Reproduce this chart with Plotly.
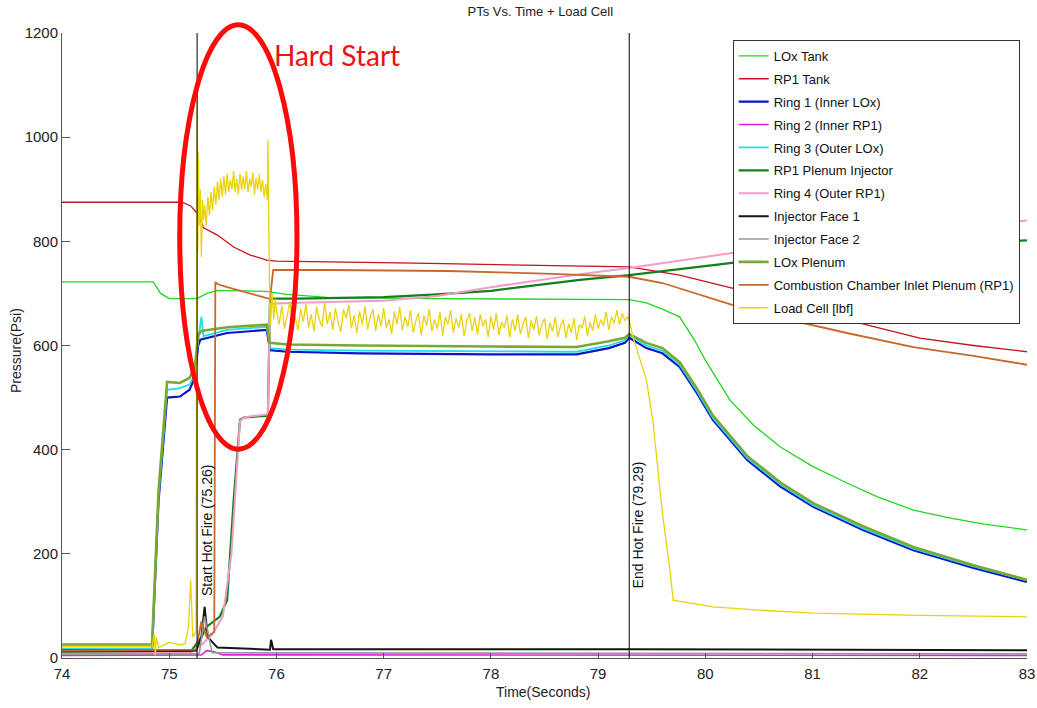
import numpy as np
import plotly.graph_objects as go

# ---------------- data ----------------
lox_tank_t = [74, 74.85, 74.92, 75.0, 75.26, 75.35, 75.45, 75.9, 76.1, 76.5, 77.5, 78.5, 79.29, 79.45, 79.6,
              79.76, 79.9, 80.0, 80.23, 80.45, 80.7, 81.0, 81.32, 81.6, 81.94, 82.3, 82.6, 83.0]
lox_tank_v = [722, 722, 700, 690, 690, 700, 706, 704, 698, 692, 690, 689, 688, 682, 670,
              655, 610, 572, 495, 447, 405, 368, 336, 310, 284, 268, 257, 246]

rp1_tank_t = [74, 75.12, 75.2, 75.26, 75.32, 75.45, 75.6, 75.75, 75.91, 76.0, 77.3, 78.5, 79.29, 79.76,
              80.25, 80.8, 81.32, 82.0, 82.5, 83.0]
rp1_tank_v = [875, 875, 868, 854, 826, 812, 789, 774, 764, 762, 758, 754, 751, 735,
              710, 680, 649, 614, 600, 588]

ring1_t = [74, 74.84, 74.9, 74.98, 75.1, 75.19, 75.24, 75.27, 75.29, 75.54, 75.91, 75.94, 76.1, 76.78,
           78.0, 78.8, 79.1, 79.25, 79.29, 79.45, 79.6, 79.76, 79.92, 80.07, 80.39, 80.7, 81.01, 81.47,
           81.94, 82.5, 83.0]
ring1_v = [15, 15, 300, 500, 502, 515, 540, 600, 611, 624, 630, 591, 588, 585,
           583, 583, 595, 605, 615, 595, 585, 559, 509, 457, 380, 329, 290, 246,
           207, 173, 146]

ring2_t = [74, 75.3, 75.35, 75.42, 75.5, 83]
ring2_v = [5, 6, 14, 12, 6, 5]

ring3_t = [74, 74.84, 74.9, 74.98, 75.1, 75.19, 75.24, 75.27, 75.3, 75.32, 75.54, 75.91, 75.94, 76.1,
           76.78, 78.0, 78.8, 79.1, 79.25, 79.29, 79.45, 79.6, 79.76, 79.92, 80.07, 80.39, 80.7, 81.01,
           81.47, 81.94, 82.5, 83.0]
ring3_v = [18, 18, 310, 515, 518, 525, 545, 610, 655, 618, 630, 636, 595, 592,
           590, 588, 588, 600, 610, 620, 600, 590, 563, 513, 461, 384, 333, 293,
           249, 210, 176, 149]

rp1_plenum_t = [74, 75.2, 75.3, 75.35, 75.47, 75.54, 75.6, 75.66, 75.7, 75.92, 75.94, 76.2, 77.0, 77.5,
                78.0, 78.83, 79.29, 80.23, 81.0, 82.0, 83.0]
rp1_plenum_v = [10, 12, 40, 60, 79, 111, 300, 457, 462, 465, 690, 690, 693, 698,
                705, 726, 735, 758, 775, 790, 802]

ring4_t = [74, 75.2, 75.3, 75.4, 75.5, 75.58, 75.66, 75.7, 75.92, 75.94, 76.2, 77.0, 77.5, 78.0,
           78.83, 79.29, 80.23, 81.0, 82.0, 83.0]
ring4_v = [8, 10, 25, 45, 80, 200, 455, 462, 468, 680, 682, 686, 695, 712,
           737, 749, 777, 800, 820, 840]

face1_t = [74, 75.25, 75.3, 75.33, 75.36, 75.45, 75.94, 75.95, 75.97, 77.0, 79.29, 83]
face1_v = [14, 14, 40, 98, 40, 20, 16, 35, 17, 17, 17, 15]

face2_t = [74, 75.28, 75.33, 75.4, 83]
face2_v = [8, 8, 80, 10, 8]

lox_plenum_t = [74, 74.84, 74.9, 74.98, 75.1, 75.19, 75.24, 75.27, 75.3, 75.54, 75.91, 75.94, 76.1,
                76.78, 78.0, 78.8, 79.1, 79.25, 79.29, 79.45, 79.6, 79.76, 79.92, 80.07, 80.39, 80.7,
                81.01, 81.47, 81.94, 82.5, 83.0]
lox_plenum_v = [26, 26, 320, 530, 528, 538, 560, 620, 628, 635, 640, 605, 602,
                600, 598, 597, 608, 615, 622, 605, 595, 568, 518, 466, 388, 337,
                297, 253, 213, 178, 150]

ccip_t = [74, 75.25, 75.3, 75.35, 75.42, 75.43, 75.45, 75.54, 75.91, 75.94, 75.97, 76.5, 77.6, 78.5,
          79.29, 79.6, 80.25, 80.7, 81.32, 81.94, 82.5, 83.0]
ccip_v = [14, 16, 70, 40, 50, 722, 718, 712, 691, 690, 745, 745, 743, 738,
          732, 720, 678, 653, 624, 597, 580, 563]

load_pre_t = [74, 74.84, 74.86, 74.87, 74.88, 74.9, 75.0, 75.1, 75.15, 75.18, 75.2, 75.22, 75.25,
              75.26, 75.265, 75.27, 75.28, 75.29, 75.3, 75.31, 75.32, 75.33, 75.345, 75.36, 75.375,
              75.39, 75.405, 75.42, 75.435, 75.45, 75.465, 75.48, 75.495, 75.51, 75.525, 75.54, 75.555,
              75.57, 75.585, 75.6, 75.615, 75.63, 75.645, 75.66, 75.675, 75.69, 75.705, 75.72, 75.735,
              75.75, 75.765, 75.78, 75.795, 75.81, 75.825, 75.84, 75.855, 75.87, 75.885, 75.9, 75.915,
              75.92, 75.935, 75.945, 75.96, 75.975, 75.99]
load_pre_v = [22, 22, 45, 5, 40, 20, 30, 25, 28, 60, 150, 40, 50,
              1090, 780, 970, 830, 900, 770, 880, 840, 870, 830, 885, 850,
              895, 860, 905, 870, 915, 880, 920, 885, 925, 890, 930, 895,
              918, 900, 935, 895, 920, 890, 930, 898, 925, 900, 935, 895,
              920, 905, 932, 890, 922, 900, 928, 895, 918, 885, 910, 880,
              995, 720, 640, 700, 650, 690]
load_burn_v = [668, 640, 676, 632, 662, 684, 638, 655, 629, 671,
               646, 680, 634, 660, 627, 674, 650, 636, 683, 641,
               664, 630, 672, 645, 626, 669, 652, 678, 633, 658,
               624, 666, 640, 675, 631, 655, 670, 628, 660, 637,
               672, 634, 650, 622, 666, 641, 674, 629, 655, 636,
               668, 625, 647, 662, 620, 658, 638, 670, 627, 650,
               632, 664, 619, 655, 641, 668, 624, 652, 635, 660,
               618, 648, 662, 628, 654, 621, 660, 637, 650, 616,
               656, 630, 662, 620, 645, 634, 658, 615, 650, 628,
               660, 622, 642, 655, 614, 648, 630, 657, 619, 640,
               652, 612, 644, 627, 655, 616, 638, 650, 614, 642,
               624, 652, 610, 640, 633, 656, 618, 645, 628, 660,
               632, 650, 638, 664, 630, 655, 642, 668, 640, 662,
               648, 655]
load_post_t = [79.29, 79.32, 79.45, 79.51, 79.6, 79.67, 79.7, 80.07, 80.5, 81.01, 82.0, 83.0]
load_post_v = [650, 620, 534, 457, 278, 169, 111, 98, 92, 86, 82, 79]
load_burn_t = list(np.round(np.arange(len(load_burn_v)) * 0.025 + 76.0, 3))
load_t = load_pre_t + load_burn_t + load_post_t
load_v = load_pre_v + load_burn_v + load_post_v

series = [
    ("LOx Tank", lox_tank_t, lox_tank_v, "#1fd81f", 1.3),
    ("RP1 Tank", rp1_tank_t, rp1_tank_v, "#c4141e", 1.3),
    ("Ring 1 (Inner LOx)", ring1_t, ring1_v, "#0a14c8", 2.2),
    ("Ring 2 (Inner RP1)", ring2_t, ring2_v, "#d826d8", 1.6),
    ("Ring 3 (Outer LOx)", ring3_t, ring3_v, "#22dce6", 1.8),
    ("RP1 Plenum Injector", rp1_plenum_t, rp1_plenum_v, "#12801e", 2.2),
    ("Ring 4 (Outer RP1)", ring4_t, ring4_v, "#f29cc8", 2.0),
    ("Injector Face 1", face1_t, face1_v, "#151515", 2.0),
    ("Injector Face 2", face2_t, face2_v, "#9a9a9a", 1.6),
    ("LOx Plenum", lox_plenum_t, lox_plenum_v, "#7aa832", 2.6),
    ("Combustion Chamber Inlet Plenum (RP1)", ccip_t, ccip_v, "#c8682c", 1.8),
    ("Load Cell [lbf]", load_t, load_v, "#ead20e", 1.3),
]

start_fire = 75.26
end_fire = 79.29

fig = go.Figure()
for i, (name, t, v, col, w) in enumerate(series):
    fig.add_trace(go.Scatter(x=t, y=v, mode="lines", name=name, legendgroup="g%d" % i,
                             line=dict(color=col, width=w)))

for tx in (start_fire, end_fire):
    fig.add_trace(go.Scatter(x=[tx, tx], y=[0, 1200], mode="lines", showlegend=False,
                             line=dict(color="black", width=1), hoverinfo="skip"))

regular = "Liberation Sans, Arial, sans-serif"

fig.add_annotation(x=start_fire, y=246, text="Start Hot Fire (75.26)", textangle=-90,
                   showarrow=False, xshift=10, font=dict(family=regular, size=14, color="#111"))
fig.add_annotation(x=end_fire, y=255, text="End Hot Fire (79.29)", textangle=-90,
                   showarrow=False, xshift=9, font=dict(family=regular, size=14, color="#111"))

# axis titles
fig.add_annotation(xref="paper", yref="paper", x=-0.0477, y=0.4928, text="Pressure(Psi)",
                   textangle=-90, showarrow=False, xanchor="center", yanchor="middle",
                   font=dict(family=regular, size=14, color="#222"))
fig.add_annotation(xref="paper", yref="paper", x=0.4984, y=-0.0544, text="Time(Seconds)",
                   showarrow=False, xanchor="center", yanchor="middle",
                   font=dict(family=regular, size=14, color="#222"))

# red ellipse and label
fig.add_shape(type="circle", xref="paper", yref="paper", x0=0.122, x1=0.2435, y0=0.334, y1=1.013,
              line=dict(color="#ff0a0a", width=5), layer="above")
fig.add_annotation(xref="paper", yref="paper", x=0.285, y=0.965, xanchor="center", yanchor="middle",
                   text="Hard Start", showarrow=False,
                   font=dict(family="Lato, Open Sans, sans-serif", size=28, color="#f01010"))

fig.update_layout(
    width=1037, height=708,
    margin=dict(l=62, r=10, t=33, b=50, autoexpand=False),
    paper_bgcolor="white", plot_bgcolor="white",
    title=dict(text="PTs Vs. Time + Load Cell", x=0.521, xanchor="center", y=0.99, yanchor="top",
               font=dict(family=regular, size=13, color="#222")),
    showlegend=True,
    legend=dict(x=0.695, y=0.989, xanchor="left", yanchor="top",
                bgcolor="white", bordercolor="#333", borderwidth=1,
                font=dict(family=regular, size=13, color="#111"),
                tracegroupgap=3),
    xaxis=dict(range=[74, 83], tickvals=[74, 75, 76, 77, 78, 79, 80, 81, 82, 83],
               showgrid=False, zeroline=False, showline=True, linecolor="#555", linewidth=1,
               ticks="inside", ticklen=5, tickcolor="#555", automargin=False,
               ticklabelstandoff=2,
               tickfont=dict(family=regular, size=15, color="#222")),
    yaxis=dict(range=[0, 1200], tickvals=[0, 200, 400, 600, 800, 1000, 1200],
               showgrid=False, zeroline=False, showline=True, linecolor="#555", linewidth=1,
               ticks="inside", ticklen=8, tickcolor="#555", automargin=False,
               tickfont=dict(family=regular, size=15, color="#222")),
)

fig.write_html("out.html")
